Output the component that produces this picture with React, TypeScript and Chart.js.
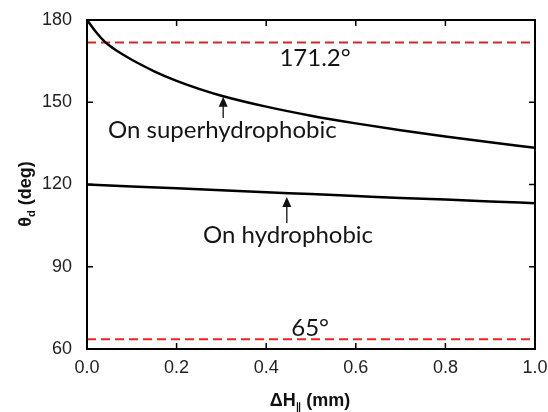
import React, { useEffect, useRef } from "react";
import { Chart, registerables } from "chart.js";

Chart.register(...registerables);

// ---- data ----
const superX = [0, 0.02, 0.04, 0.06, 0.08, 0.1, 0.15, 0.2, 0.25, 0.3, 0.4, 0.5, 0.6, 0.7, 0.8, 0.9, 1.0];
const superY = [180, 175.6, 172.0, 169.5, 167.4, 165.5, 161.3, 157.8, 154.9, 152.4, 148.4, 145.1, 142.3, 139.8, 137.5, 135.4, 133.4];
const hydroX = [0, 0.1, 0.2, 0.3, 0.4, 0.5, 0.6, 0.7, 0.8, 0.9, 1.0];
const hydroY = [120, 119.3, 118.6, 117.9, 117.2, 116.5, 115.8, 115.1, 114.5, 113.8, 113.2];
const refUpperY = 171.8;
const refLowerY = 63.6;
const refUpperLabel = "171.2°";
const refLowerLabel = "65°";
const xTicks = [0, 0.2, 0.4, 0.6, 0.8, 1.0];
const yTicks = [60, 90, 120, 150, 180];
const superLabel = "On superhydrophobic";
const hydroLabel = "On hydrophobic";

export default function App() {
  const ref = useRef<HTMLCanvasElement | null>(null);
  useEffect(() => {
    const canvas = ref.current!;
    const tickFont = { family: "'Liberation Sans', Arial, sans-serif", size: 18 };

    const drawRich = (ctx: CanvasRenderingContext2D, parts: { t: string; f: string; dy: number }[], cx: number, cy: number) => {
      let total = 0;
      for (const p of parts) { ctx.font = p.f; total += ctx.measureText(p.t).width; }
      let x = cx - total / 2;
      ctx.textBaseline = "middle";
      ctx.textAlign = "left";
      for (const p of parts) {
        ctx.font = p.f;
        ctx.fillText(p.t, x, cy + p.dy);
        x += ctx.measureText(p.t).width;
      }
    };

    const arrow = (ctx: CanvasRenderingContext2D, x: number, y0: number, y1: number) => {
      ctx.save();
      ctx.strokeStyle = "#111";
      ctx.fillStyle = "#111";
      ctx.lineWidth = 1.3;
      ctx.beginPath();
      ctx.moveTo(x, y0);
      ctx.lineTo(x, y1 + 8);
      ctx.stroke();
      ctx.beginPath();
      ctx.moveTo(x, y1);
      ctx.lineTo(x - 4.5, y1 + 10);
      ctx.lineTo(x + 4.5, y1 + 10);
      ctx.closePath();
      ctx.fill();
      ctx.restore();
    };

    const deco = {
      id: "deco",
      afterDraw(chart: any) {
        const { ctx, chartArea: a, scales } = chart;
        const xs = scales.x, ys = scales.y;
        ctx.save();
        // frame
        ctx.strokeStyle = "#000";
        ctx.lineWidth = 2;
        ctx.strokeRect(a.left, a.top, a.right - a.left, a.bottom - a.top);
        // inner ticks
        ctx.lineWidth = 1.5;
        const tl = 6;
        ctx.beginPath();
        for (const v of xTicks.slice(1, -1)) {
          const px = xs.getPixelForValue(v);
          ctx.moveTo(px, a.bottom); ctx.lineTo(px, a.bottom - tl);
          ctx.moveTo(px, a.top); ctx.lineTo(px, a.top + tl);
        }
        for (const v of yTicks.slice(1, -1)) {
          const py = ys.getPixelForValue(v);
          ctx.moveTo(a.left, py); ctx.lineTo(a.left + tl, py);
          ctx.moveTo(a.right, py); ctx.lineTo(a.right - tl, py);
        }
        ctx.stroke();

        // axis titles
        ctx.fillStyle = "#111";
        const bold = "bold 18px 'Liberation Sans', Arial, sans-serif";
        const boldSub = "bold 11px 'Liberation Sans', Arial, sans-serif";
        drawRich(ctx, [
          { t: "ΔH", f: bold, dy: 0 },
          { t: "\u2225", f: "bold 11px 'DejaVu Sans', sans-serif", dy: 7 },
          { t: " (mm)", f: bold, dy: 0 },
        ], 310, 401);
        ctx.save();
        ctx.translate(26, 194);
        ctx.rotate(-Math.PI / 2);
        drawRich(ctx, [
          { t: "θ", f: bold, dy: 0 },
          { t: "d", f: boldSub, dy: 6 },
          { t: " (deg)", f: bold, dy: 0 },
        ], 0, 0);
        ctx.restore();

        // annotations
        const ann = "24px Lato, 'Open Sans', sans-serif";
        ctx.font = ann;
        ctx.fillStyle = "#151515";
        ctx.textBaseline = "middle";
        ctx.textAlign = "center";
        ctx.fillText(refUpperLabel, xs.getPixelForValue(0.509), ys.getPixelForValue(166.1));
        ctx.fillText(refLowerLabel, xs.getPixelForValue(0.498), ys.getPixelForValue(67.7));
        ctx.textAlign = "left";
        ctx.fillText(superLabel, xs.getPixelForValue(0.047), ys.getPixelForValue(139.9));
        ctx.fillText(hydroLabel, xs.getPixelForValue(0.259), ys.getPixelForValue(101.6));
        arrow(ctx, xs.getPixelForValue(0.304), ys.getPixelForValue(144.3), ys.getPixelForValue(152.0));
        arrow(ctx, xs.getPixelForValue(0.446), ys.getPixelForValue(106.0), ys.getPixelForValue(115.4));
        ctx.restore();
      },
    };

    const chart = new Chart(canvas, {
      type: "line",
      data: {
        datasets: [
          {
            data: superX.map((x, i) => ({ x, y: superY[i] })),
            borderColor: "#000", borderWidth: 2.5, pointRadius: 0, cubicInterpolationMode: "monotone",
          },
          {
            data: hydroX.map((x, i) => ({ x, y: hydroY[i] })),
            borderColor: "#000", borderWidth: 2.5, pointRadius: 0, cubicInterpolationMode: "monotone",
          },
          {
            data: [{ x: 0, y: refUpperY }, { x: 1, y: refUpperY }],
            borderColor: "#cc2a2a", borderWidth: 2, borderDash: [9, 5], pointRadius: 0,
          },
          {
            data: [{ x: 0, y: refLowerY }, { x: 1, y: refLowerY }],
            borderColor: "#ee2424", borderWidth: 2, borderDash: [9, 5], pointRadius: 0,
          },
        ],
      } as any,
      options: {
        animation: false,
        responsive: false,
        layout: { padding: { left: 0, right: 13, top: 20, bottom: 0 } },
        plugins: { legend: { display: false }, tooltip: { enabled: false } },
        scales: {
          x: {
            type: "linear", min: 0, max: 1,
            afterBuildTicks: (s: any) => { s.ticks = xTicks.map((v) => ({ value: v })); },
            ticks: { font: tickFont, color: "#222", padding: 0, callback: (v: any) => Number(v).toFixed(1), maxRotation: 0 },
            grid: { display: false },
            border: { display: false },
            afterFit: (s: any) => { s.height = 63; },
          },
          y: {
            type: "linear", min: 60, max: 180,
            afterBuildTicks: (s: any) => { s.ticks = yTicks.map((v) => ({ value: v })); },
            ticks: { font: tickFont, color: "#222", padding: 7 },
            grid: { display: false },
            border: { display: false },
            afterFit: (s: any) => { s.width = 87; },
          },
        },
      } as any,
      plugins: [deco],
    });
    return () => chart.destroy();
  }, []);
  return (
    <div style={{ position: "absolute", left: 0, top: 0, width: 548, height: 412, background: "#fff" }}>
      <canvas ref={ref} width={548} height={412} style={{ display: "block" }} />
    </div>
  );
}
